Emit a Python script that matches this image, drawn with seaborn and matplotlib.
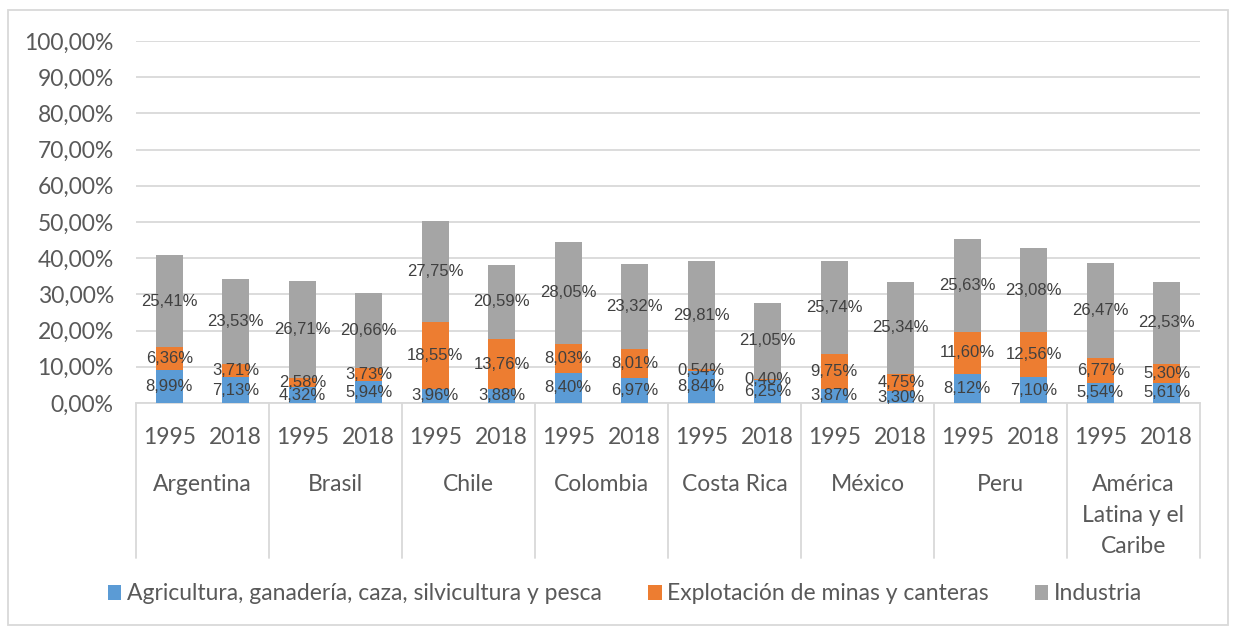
import matplotlib
matplotlib.use("Agg")
import matplotlib.pyplot as plt
from matplotlib.patches import Rectangle
from matplotlib.lines import Line2D
import matplotlib.transforms as mtransforms
import numpy as np
import pandas as pd
import seaborn as sns

# Data (share of GDP, %)
countries = ["Argentina", "Brasil", "Chile", "Colombia", "Costa Rica",
             "México", "Peru", "América\nLatina y el\nCaribe"]
years = ["1995", "2018"]
agricultura = [8.99, 7.13, 4.32, 5.94, 3.96, 3.88, 8.40, 6.97,
               8.84, 6.25, 3.87, 3.30, 8.12, 7.10, 5.54, 5.61]
minas = [6.36, 3.71, 2.58, 3.73, 18.55, 13.76, 8.03, 8.01,
         0.54, 0.40, 9.75, 4.75, 11.60, 12.56, 6.77, 5.30]
industria = [25.41, 23.53, 26.71, 20.66, 27.75, 20.59, 28.05, 23.32,
             29.81, 21.05, 25.74, 25.34, 25.63, 23.08, 26.47, 22.53]
series_names = ["Agricultura, ganadería, caza, silvicultura y pesca",
                "Explotación de minas y canteras", "Industria"]
yticks = list(range(0, 101, 10))

colors = ["#5B9BD5", "#ED7D31", "#A5A5A5"]
label_color = "#404040"
tick_color = "#595959"
grid_color = "#D9D9D9"
axis_font = "Lato"
value_font = "Liberation Sans"
axis_size = 16.5

keys = [f"{c}|{y}" for c in countries for y in years]
df = pd.DataFrame({
    "key": keys,
    "agri": agricultura,
    "minas": minas,
    "ind": industria,
})
df["c1"] = df["agri"]
df["c2"] = df["agri"] + df["minas"]
df["c3"] = df["c2"] + df["ind"]

sns.set_theme(style="white")
plt.rcParams["font.family"] = [axis_font, "DejaVu Sans"]

fig = plt.figure(figsize=(12.33, 6.28), dpi=100)
W, H = 1233, 628
ax_left, ax_right, ax_top, ax_bottom = 136, 1200, 41, 403
ax = fig.add_axes([ax_left / W, 1 - ax_bottom / H,
                   (ax_right - ax_left) / W, (ax_bottom - ax_top) / H])

# Stacked bars: draw cumulative totals back to front
for col, colr in zip(["c3", "c2", "c1"], colors[::-1]):
    sns.barplot(data=df, x="key", y=col, order=keys, color=colr,
                saturation=1, width=0.4, linewidth=0, ax=ax, zorder=3)

ax.set_xlim(-0.5, len(keys) - 0.5)
ax.set_ylim(0, 100)
ax.set_yticks(yticks)
ax.set_yticklabels([f"{v:.2f}".replace(".", ",") + "%" for v in yticks],
                   fontsize=axis_size, color=tick_color)
ax.yaxis.grid(True, color=grid_color, linewidth=1.3, zorder=0)
ax.set_axisbelow(True)
for s in ["top", "right", "left"]:
    ax.spines[s].set_visible(False)
ax.spines["bottom"].set_color(grid_color)
ax.spines["bottom"].set_linewidth(1.3)
ax.tick_params(axis="y", length=0, pad=16)
ax.tick_params(axis="x", length=0, pad=17)
ax.set_xticks(range(len(keys)))
ax.set_xticklabels(years * len(countries), fontsize=axis_size, color=tick_color)
ax.set_xlabel("")
ax.set_ylabel("")

# Segment value labels
def fmt(v):
    return f"{v:.2f}".replace(".", ",") + "%"

for i, row in df.iterrows():
    segs = [(0, row["agri"]), (row["c1"], row["minas"]), (row["c2"], row["ind"])]
    for base, val in segs:
        ax.text(i, base + val / 2, fmt(val), ha="center", va="center",
                fontsize=12, color=label_color, family=value_font, zorder=5)

# Country group labels and separators
trans = mtransforms.blended_transform_factory(ax.transData, ax.transAxes)
sep_bottom = -(558 - ax_bottom) / (ax_bottom - ax_top)
for g in range(len(countries) + 1):
    xpos = g * 2 - 0.5
    ax.add_line(Line2D([xpos, xpos], [0, sep_bottom], transform=trans,
                       color=grid_color, linewidth=1.3, clip_on=False))
name_top = -(474 - ax_bottom) / (ax_bottom - ax_top)
for g, name in enumerate(countries):
    ax.text(g * 2 + 0.5, name_top, name, transform=trans, ha="center",
            va="top", fontsize=axis_size, color=tick_color, linespacing=1.58)

# Legend
handles = [Rectangle((0, 0), 1, 1, facecolor=c, edgecolor="none") for c in colors]
fig.legend(handles, series_names, loc="center", ncol=3,
           bbox_to_anchor=(625 / W, 1 - 594 / H), frameon=False,
           fontsize=axis_size, handlelength=0.6, handleheight=0.6,
           handletextpad=0.25, columnspacing=2.0, labelcolor=tick_color)

# Chart border
fig.patches.append(Rectangle((8 / W, 1 - 625 / H), (1228 - 8) / W, (625 - 10) / H,
                             transform=fig.transFigure, fill=False,
                             edgecolor=grid_color, linewidth=1.3))

fig.savefig("out.png", dpi=100, facecolor="white")
